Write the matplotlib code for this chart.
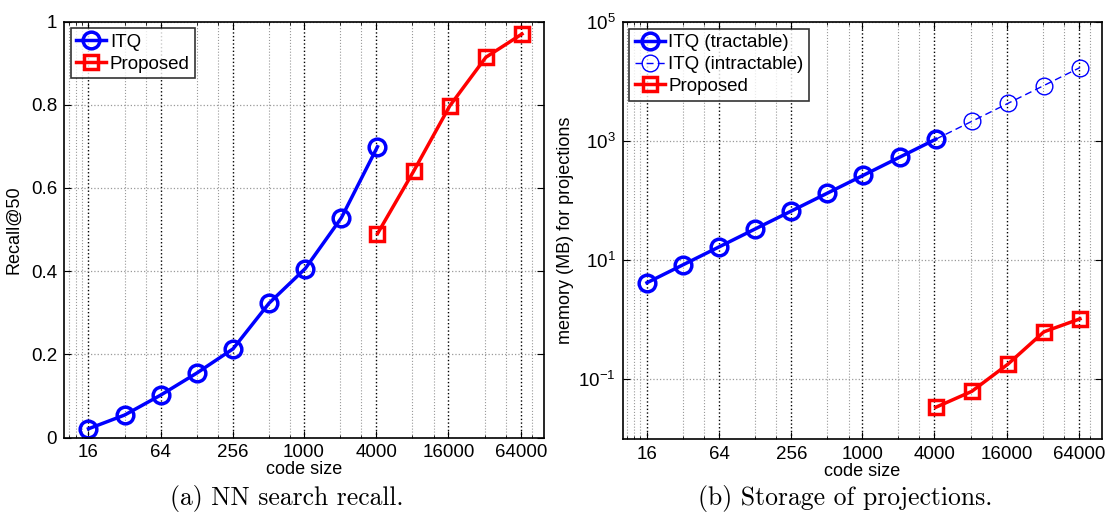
import matplotlib
matplotlib.use("Agg")
import matplotlib.pyplot as plt
from matplotlib.ticker import FixedLocator, FixedFormatter, NullFormatter, NullLocator

plt.rcParams['font.family'] = ['Liberation Sans', 'DejaVu Sans']
plt.rcParams['mathtext.fontset'] = 'custom'
plt.rcParams['mathtext.rm'] = 'Liberation Sans'

# data
itq_sizes = [16, 32, 64, 128, 256, 512, 1024, 2048, 4096]
itq_recall = [0.021, 0.054, 0.102, 0.155, 0.213, 0.323, 0.406, 0.528, 0.699]
prop_sizes = [4096, 8192, 16384, 32768, 65536]
prop_recall = [0.490, 0.640, 0.797, 0.914, 0.970]

itq_mem_tract = [4.2, 8.4, 16.8, 33.6, 67.1, 134, 268, 537, 1074]
intract_sizes = [4096, 8192, 16384, 32768, 65536]
itq_mem_intract = [1074, 2147, 4295, 8590, 17180]
prop_mem = [0.034, 0.063, 0.18, 0.63, 1.04]

xticks = [16, 64, 256, 1000, 4000, 16000, 64000]
xticklabels = ['16', '64', '256', '1000', '4000', '16000', '64000']
xminor = [11, 12.5, 14, 32, 48, 128, 192, 512, 768, 2000, 3000,
          8000, 12000, 32000, 48000, 80000]

fig = plt.figure(figsize=(11.07, 5.15), dpi=100)
W, H = 1107, 515
ax1 = fig.add_axes([64/W, 1-437.5/H, (544-64)/W, (437.5-21.5)/H])
ax2 = fig.add_axes([622.5/W, 1-439/H, (1102-622.5)/W, (439-22)/H])

blue = '#0000ff'
red = '#ff0000'

def style_x(ax):
    ax.set_xscale('log')
    ax.set_xlim(10, 1e5)
    ax.xaxis.set_major_locator(FixedLocator(xticks))
    ax.xaxis.set_major_formatter(FixedFormatter(xticklabels))
    ax.xaxis.set_minor_locator(FixedLocator(xminor))
    ax.xaxis.set_minor_formatter(NullFormatter())
    ax.grid(True, which='major', axis='x', color='black', linestyle=':', linewidth=1.0)
    ax.grid(True, which='minor', axis='x', color='#999999', linestyle=':', linewidth=0.8)
    ax.tick_params(which='both', direction='in', top=True, right=True, labelsize=13.5)
    ax.tick_params(which='major', length=5, pad=5)
    ax.tick_params(which='minor', length=2.5)
    ax.set_xlabel('code size', fontsize=13, labelpad=0)
    for s in ax.spines.values():
        s.set_linewidth(1.2)
    ax.set_axisbelow(True)

legkw = dict(loc='upper left', fontsize=13.5, frameon=True, fancybox=False,
             edgecolor='black', borderpad=0.3, labelspacing=0.25,
             handlelength=1.6, handletextpad=0.2, borderaxespad=0.35)

# left panel
style_x(ax1)
ax1.plot(itq_sizes, itq_recall, '-o', color=blue, lw=2.5, ms=12, mew=2.5,
         mfc='none', label='ITQ')
ax1.plot(prop_sizes, prop_recall, '-s', color=red, lw=2.5, ms=10, mew=2.5,
         mfc='none', label='Proposed')
ax1.set_ylim(0, 1)
ax1.yaxis.set_major_locator(FixedLocator([0, 0.2, 0.4, 0.6, 0.8, 1]))
ax1.yaxis.set_major_formatter(FixedFormatter(['0', '0.2', '0.4', '0.6', '0.8', '1']))
ax1.yaxis.set_minor_locator(NullLocator())
ax1.grid(True, which='major', axis='y', color='#999999', linestyle=':', linewidth=0.9)
ax1.set_ylabel('Recall@50', fontsize=13, labelpad=6)
leg1 = ax1.legend(**legkw)
leg1.get_frame().set_linewidth(1.2)

# right panel
style_x(ax2)
ax2.plot(itq_sizes, itq_mem_tract, '-o', color=blue, lw=2.5, ms=12, mew=2.5,
         mfc='none', label='ITQ (tractable)')
ax2.plot(intract_sizes, itq_mem_intract, '--o', color=blue, lw=1.0, ms=12, mew=1.0,
         mfc='none', label='ITQ (intractable)', dashes=(5, 3))
ax2.plot(prop_sizes, prop_mem, '-s', color=red, lw=2.5, ms=10, mew=2.5,
         mfc='none', label='Proposed')
ax2.set_yscale('log')
ax2.set_ylim(1e-2, 1e5)
ax2.yaxis.set_major_locator(FixedLocator([1e-1, 1e1, 1e3, 1e5]))
ax2.yaxis.set_major_formatter(FixedFormatter([r'$\mathregular{10^{-1}}$', r'$\mathregular{10^{1}}$',
                                              r'$\mathregular{10^{3}}$', r'$\mathregular{10^{5}}$']))
ax2.yaxis.set_minor_locator(NullLocator())
ax2.grid(True, which='major', axis='y', color='#999999', linestyle=':', linewidth=0.9)
ax2.set_ylabel('memory (MB) for projections', fontsize=13, labelpad=3)
leg2 = ax2.legend(**legkw)
leg2.get_frame().set_linewidth(1.2)

# captions
fig.text(287/W, 1-499/H, '(a) NN search recall.', family='cmr10', fontsize=18.5,
         ha='center', va='center')
fig.text(845/W, 1-499/H, '(b) Storage of projections.', family='cmr10', fontsize=18.5,
         ha='center', va='center')

fig.savefig('out.png', dpi=100)
